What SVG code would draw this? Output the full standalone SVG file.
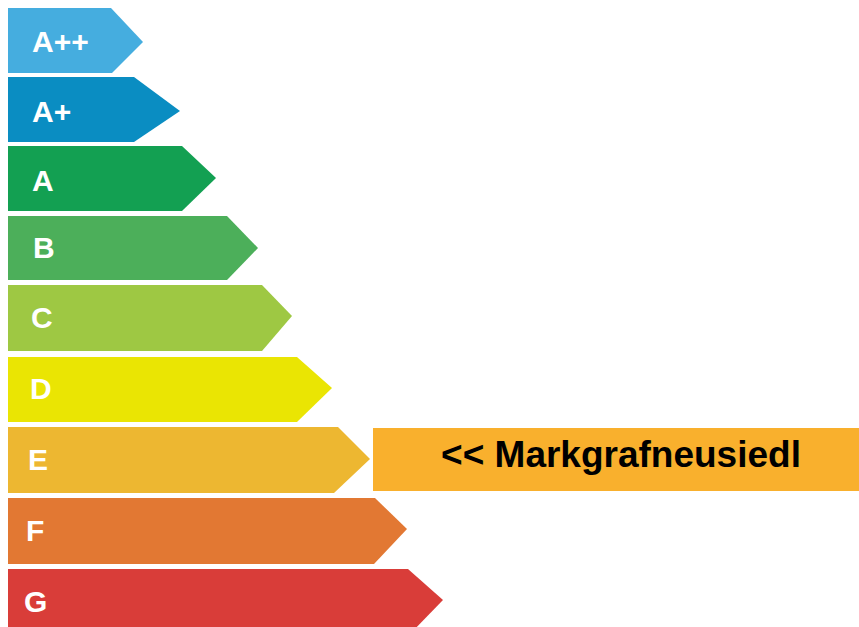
<svg xmlns="http://www.w3.org/2000/svg" width="859" height="627" viewBox="0 0 859 627">
<style>
.lbl{font-family:"Liberation Sans",Arial,sans-serif;font-weight:bold;font-size:30px;fill:#ffffff}
.big{font-family:"Liberation Sans",Arial,sans-serif;font-weight:bold;font-size:37px;fill:#000000}
</style>
<rect x="0" y="0" width="859" height="627" fill="#ffffff"/>
<g id="band-app"><polygon points="8,8 111,8 143,42 112,73 8,73" fill="#45ADDF"/><text class="lbl" x="32" y="52">A++</text></g>
<g id="band-ap"><polygon points="8,77 134,77 180,111 134,142 8,142" fill="#0A8DC2"/><text class="lbl" x="32" y="122">A+</text></g>
<g id="band-a"><polygon points="8,146 182,146 216,178 182,211 8,211" fill="#13A052"/><text class="lbl" x="32" y="191">A</text></g>
<g id="band-b"><polygon points="8,216 227,216 258,248 227,280 8,280" fill="#4CAF5A"/><text class="lbl" x="33" y="258">B</text></g>
<g id="band-c"><polygon points="8,285 262,285 292,316 262,351 8,351" fill="#9EC843"/><text class="lbl" x="31" y="328">C</text></g>
<g id="band-d"><polygon points="8,357 297,357 332,388 297,422 8,422" fill="#EAE503"/><text class="lbl" x="30" y="399">D</text></g>
<g id="band-e"><polygon points="8,427 338,427 370,459 334,493 8,493" fill="#EDB731"/><text class="lbl" x="28" y="470">E</text></g>
<g id="band-f"><polygon points="8,498 375,498 407,529 374,564 8,564" fill="#E27833"/><text class="lbl" x="26" y="541">F</text></g>
<g id="band-g"><polygon points="8,569 408,569 443,600 410,634 8,634" fill="#D93D39"/><text class="lbl" x="24" y="612">G</text></g>
<g id="marker"><rect x="373" y="428" width="486" height="63" fill="#F9B02D"/><text class="big" x="621" y="467" text-anchor="middle">&lt;&lt; Markgrafneusiedl</text></g>
<g id="connectors"></g>
</svg>
